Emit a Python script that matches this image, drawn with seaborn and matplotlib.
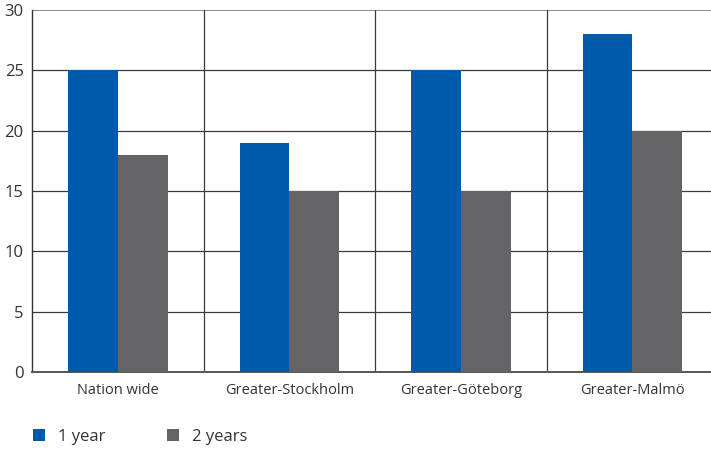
import matplotlib
matplotlib.use("Agg")
import matplotlib.pyplot as plt
import seaborn as sns
import pandas as pd
from matplotlib.patches import Patch

regions = ["Nation wide", "Greater-Stockholm", "Greater-Göteborg", "Greater-Malmö"]
one_year = [25, 19, 25, 28]
two_years = [18, 15, 15, 20]
series_names = ["1 year", "2 years"]
y_ticks = [0, 5, 10, 15, 20, 25, 30]

df = pd.DataFrame({
    "region": regions * 2,
    "value": one_year + two_years,
    "period": [series_names[0]] * len(regions) + [series_names[1]] * len(regions),
})

sns.set_theme(style="white")
plt.rcParams["font.family"] = ["Open Sans", "DejaVu Sans"]

palette = {"1 year": "#005aab", "2 years": "#646466"}

fig = plt.figure(figsize=(7.11, 4.49), dpi=100)
# the plot area runs a little past the right edge of the figure
ax = fig.add_axes([0.045, 0.1715, 0.965, 0.806])

sns.barplot(data=df, x="region", y="value", hue="period", palette=palette,
            width=0.58, saturation=1, ax=ax, legend=False, zorder=3,
            edgecolor="none", linewidth=0)

ax.set_ylim(0, 30)
ax.set_xlim(-0.5, len(regions) - 0.5)
ax.set_yticks(y_ticks)
ax.set_yticklabels([str(t) for t in y_ticks], fontsize=12, color="#333333")
ax.tick_params(axis="x", labelsize=10.5, colors="#333333", length=0, pad=8)
ax.tick_params(axis="y", length=0, pad=6)
ax.set_xlabel("")
ax.set_ylabel("")

# horizontal grid at every tick, lighter top rule
for t in y_ticks[1:-1]:
    ax.axhline(t, color="#3a3a3a", lw=0.9, zorder=1)
ax.axhline(30, color="#888888", lw=1.4, zorder=1)

# separators between region groups
for i in range(len(regions) - 1):
    ax.axvline(i + 0.5, color="#3a3a3a", lw=0.9, zorder=1)

for side in ["top", "right"]:
    ax.spines[side].set_visible(False)
ax.spines["left"].set_color("#333333")
ax.spines["left"].set_linewidth(1.0)
ax.spines["bottom"].set_color("#555555")
ax.spines["bottom"].set_linewidth(1.4)

handles = [Patch(facecolor=palette[s], edgecolor="none") for s in series_names]
fig.legend(handles, series_names, loc="lower left", bbox_to_anchor=(0.025, -0.024),
           ncol=2, frameon=False, fontsize=12, handlelength=0.75, handleheight=0.75,
           handletextpad=0.75, columnspacing=3.7, labelcolor="#333333")

fig.savefig("out.png", dpi=100)
